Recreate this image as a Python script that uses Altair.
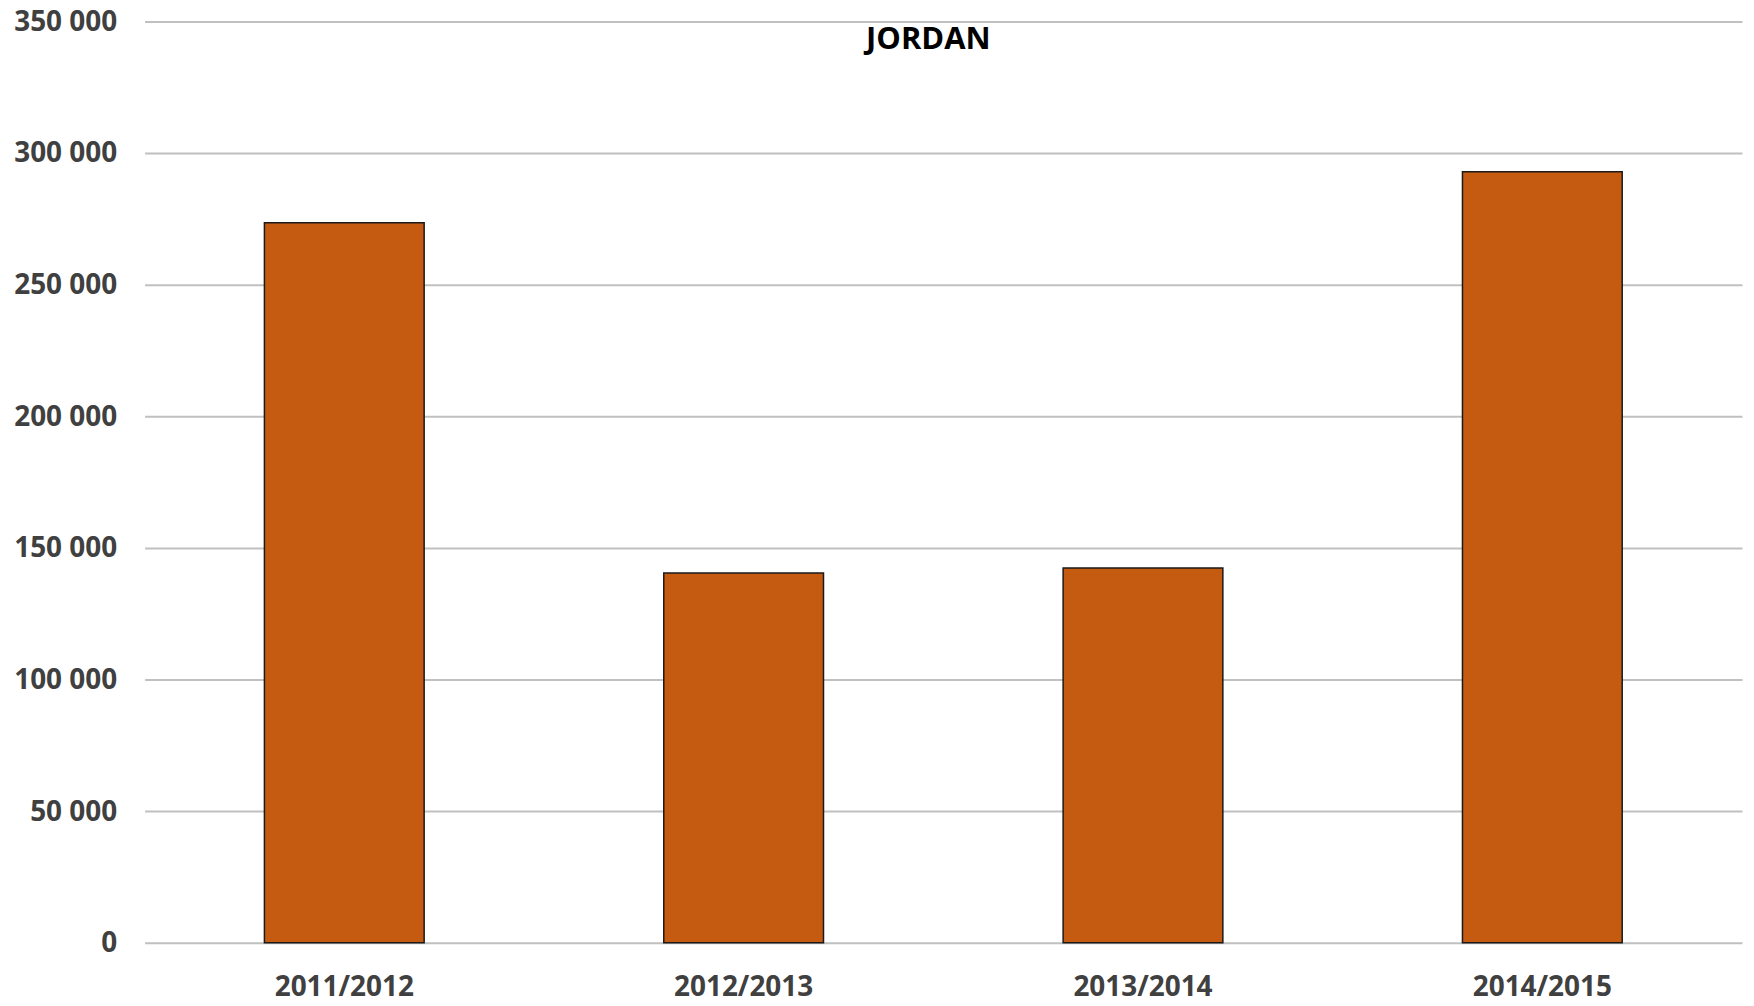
import altair as alt
import pandas as pd

seasons = ["2011/2012", "2012/2013", "2013/2014", "2014/2015"]
values = [273500, 140500, 142400, 292900]
title_text = ["JORDAN"]
y_ticks = [0, 50000, 100000, 150000, 200000, 250000, 300000, 350000]

df = pd.DataFrame({"season": seasons, "value": values})
tdf = pd.DataFrame({"t": title_text})

FONT = "Open Sans"

bars = alt.Chart(df).mark_bar(
    color="#C55A11", stroke="#1a1a1a", strokeWidth=1.5
).encode(
    x=alt.X(
        "season:N",
        sort=seasons,
        title=None,
        scale=alt.Scale(paddingInner=0.6, paddingOuter=0.3),
        axis=alt.Axis(
            labelAngle=0,
            labelFont=FONT,
            labelFontSize=28,
            labelFontWeight="bold",
            labelColor="#404040",
            labelBaseline="alphabetic",
            labelPadding=53,
            ticks=False,
            domain=False,
            grid=False,
        ),
    ),
    y=alt.Y(
        "value:Q",
        title=None,
        scale=alt.Scale(domain=[0, 350000], nice=False),
        axis=alt.Axis(
            values=y_ticks,
            labelExpr="replace(format(datum.value, ','), ',', ' ')",
            labelFont=FONT,
            labelFontSize=28,
            labelFontWeight="bold",
            labelColor="#404040",
            labelPadding=28,
            labelOffset=1,
            ticks=False,
            domain=False,
            grid=True,
            gridColor="#c0c0c0",
            gridWidth=2,
        ),
    ),
)

title = alt.Chart(tdf).mark_text(
    font=FONT, fontSize=31, fontWeight="bold", color="#000000",
    baseline="alphabetic", align="center"
).encode(
    text="t:N",
    x=alt.value(786),
    y=alt.value(28),
)

chart = alt.layer(bars, title).properties(
    width=1602,
    height=924,
    background="white",
    autosize=alt.AutoSizeParams(type="none"),
    padding={"left": 137, "top": 12, "right": 4, "bottom": 60},
).configure_view(stroke=None)

chart.save("out.html", embed_options={"renderer": "svg", "actions": False})
